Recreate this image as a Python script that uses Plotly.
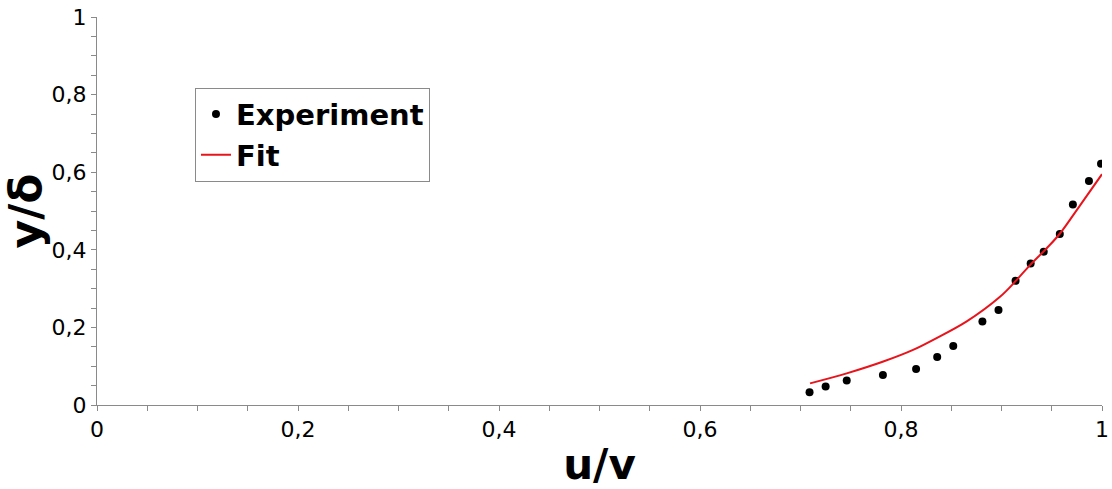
import plotly.graph_objects as go

exp_x = [0.709, 0.725, 0.746, 0.782, 0.815, 0.836, 0.852, 0.881, 0.897,
         0.914, 0.929, 0.942, 0.958, 0.971, 0.987, 0.999]
exp_y = [0.033, 0.048, 0.063, 0.077, 0.093, 0.124, 0.152, 0.215, 0.245,
         0.320, 0.365, 0.395, 0.441, 0.517, 0.577, 0.622]

# Fit curve
fit_x = [0.7095, 0.746, 0.7824, 0.812, 0.8321, 0.8654, 0.8985, 0.9134,
         0.9284, 0.945, 0.9582, 0.978, 1.0]
fit_y = [0.0558, 0.0815, 0.112, 0.142, 0.168, 0.2155, 0.2789, 0.3175,
         0.3606, 0.404, 0.442, 0.514, 0.595]

tick_vals = [0, 0.2, 0.4, 0.6, 0.8, 1]

FONT = "DejaVu Sans"

fig = go.Figure()
fig.add_trace(go.Scatter(
    x=exp_x, y=exp_y, mode="markers", name="Experiment",
    marker=dict(color="black", size=8),
))
fig.add_trace(go.Scatter(
    x=fit_x, y=fit_y, mode="lines", name="Fit",
    line=dict(color="#e8141c", width=2, shape="spline", smoothing=1),
))

axis_common = dict(
    range=[0, 1], tickvals=tick_vals, showgrid=False, zeroline=False,
    showline=True, linecolor="#8a8a8a", linewidth=1,
    ticks="outside", ticklen=5, tickcolor="#8a8a8a", tickwidth=1,
    tickfont=dict(family=FONT, size=22, color="black"),
    minor=dict(dtick=0.05, ticks="outside", ticklen=5, tickcolor="#8a8a8a",
               showgrid=False),
    automargin=False,
)

fig.update_layout(
    width=1112, height=489,
    margin=dict(l=97, r=10, t=17, b=84),
    paper_bgcolor="white", plot_bgcolor="white",
    separators=",.",
    xaxis=dict(**axis_common,
               title=dict(text="<b>u/v</b>",
                          font=dict(family=FONT, size=42, color="black"))),
    yaxis=dict(**axis_common,
               title=dict(text="<b>y/δ</b>",
                          font=dict(family=FONT, size=44, color="black"))),
    legend=dict(
        x=0.0975, y=0.818, xanchor="left", yanchor="top",
        bordercolor="#8a8a8a", borderwidth=1, bgcolor="white",
        font=dict(family=FONT, size=29, color="black", weight="bold"),
        itemwidth=30, tracegroupgap=0,
    ),
    showlegend=True,
)

fig.write_html("out.html")
